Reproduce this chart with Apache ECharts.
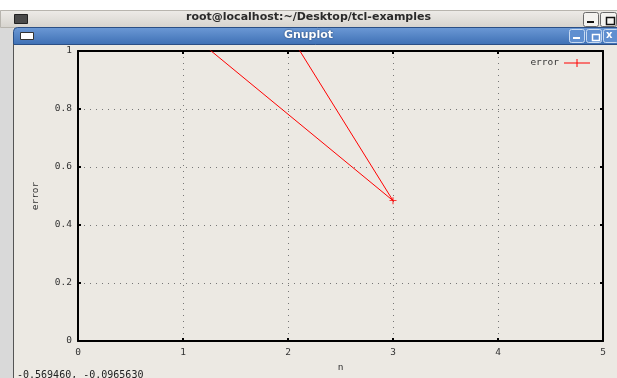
<!DOCTYPE html>
<html><head><meta charset="utf-8">
<script src="https://cdn.jsdelivr.net/npm/echarts@6/dist/echarts.min.js"></script>
<style>html,body{margin:0;padding:0;background:#fff}#c{width:617px;height:378px}</style>
</head><body><div id="c"></div>
<script>
// Data
var nValues = [1, 3, 2];
var errorValues = [1.08, 0.484, 1.066];
var xTicks = [0, 1, 2, 3, 4, 5];
var yTicks = [0, 0.2, 0.4, 0.6, 0.8, 1];
var seriesName = 'error';
var termTitle = 'root@localhost:~/Desktop/tcl-examples';
var winTitle = 'Gnuplot';
var statusText = '-0.569460, -0.0965630';

var chart = echarts.init(document.getElementById('c'), null, {renderer: 'canvas'});
var plus = 'path://M0,4.4H10V5.6H0Z M4.4,0H5.6V10H4.4Z';
var lblFont = {fontFamily: 'DejaVu Sans Mono', fontSize: 9.5, color: '#333'};

function axisCommon(extra) {
  return Object.assign({
    type: 'value', min: 0,
    axisLine: {show: true, onZero: false, lineStyle: {color: '#000', width: 2}},
    axisTick: {show: true, inside: true, length: 3, lineStyle: {color: '#000', width: 2}},
    splitLine: {show: false}
  }, extra);
}

var data = nValues.map(function (n, i) { return [n, errorValues[i]]; });

chart.setOption({
  animation: false,
  backgroundColor: '#ece9e3',
  grid: {left: 78, right: 14, top: 51, bottom: 36, containLabel: false},
  xAxis: [
    axisCommon({
      position: 'bottom', max: 5, interval: 1,
      name: 'n', nameLocation: 'middle', nameGap: 22,
      nameTextStyle: lblFont,
      axisLabel: Object.assign({margin: 7, formatter: function (v) { return xTicks.indexOf(v) >= 0 ? String(v) : ''; }}, lblFont),
      splitLine: {show: true, lineStyle: {color: '#777', width: 1, type: [1, 5]}}
    }),
    axisCommon({position: 'top', max: 5, interval: 1, axisLabel: {show: false}})
  ],
  yAxis: [
    axisCommon({
      position: 'left', max: 1, interval: 0.2,
      name: 'error', nameLocation: 'middle', nameGap: 37, nameRotate: 90,
      nameTextStyle: lblFont,
      axisLabel: Object.assign({margin: 6, formatter: function (v) {
        var r = Math.round(v * 10) / 10; return String(r);
      }}, lblFont),
      splitLine: {show: true, lineStyle: {color: '#777', width: 1, type: [1, 5]}}
    }),
    axisCommon({position: 'right', max: 1, interval: 0.2, axisLabel: {show: false}})
  ],
  legend: {
    show: true, right: 22, top: 53, orient: 'vertical', align: 'right',
    itemWidth: 26, itemHeight: 8, itemGap: 4,
    textStyle: {fontFamily: 'DejaVu Sans Mono', fontSize: 9.5, color: '#333'},
    data: [{name: seriesName, icon: 'path://M0,4.5H26V5.5H0Z M12.5,1H13.5V9H12.5Z'}]
  },
  series: [{
    name: seriesName, type: 'line', data: data, clip: true,
    xAxisIndex: 0, yAxisIndex: 0,
    symbol: plus, symbolSize: 7, showSymbol: true,
    lineStyle: {color: '#ff0000', width: 1},
    itemStyle: {color: '#ff0000'}
  }],
  graphic: [
    {type: 'rect', left: 0, top: 0, shape: {width: 13, height: 378}, style: {fill: '#d9d9d9'}, z: 100},
    {type: 'rect', left: 0, top: 0, shape: {width: 617, height: 10}, style: {fill: '#ffffff'}, z: 100},
    {type: 'rect', left: 0, top: 10, shape: {width: 617, height: 17},
      style: {fill: new echarts.graphic.LinearGradient(0, 0, 0, 1, [{offset: 0, color: '#eeece8'}, {offset: 1, color: '#d6d3cd'}]), stroke: '#b8b5ae', lineWidth: 1}, z: 100},
    {type: 'rect', left: 14, top: 14, shape: {width: 13, height: 9}, style: {fill: '#4a4a4a', stroke: '#222', lineWidth: 1}, z: 101},
    {type: 'text', left: 'center', top: 12, style: {text: termTitle, font: 'bold 11px "DejaVu Sans"', fill: '#2a2a2a'}, z: 101},
    {type: 'rect', left: 583, top: 12, shape: {width: 15, height: 14, r: 2}, style: {fill: '#f4f3f0', stroke: '#6a6a6a', lineWidth: 1}, z: 101},
    {type: 'rect', left: 587, top: 21, shape: {width: 7, height: 2}, style: {fill: '#111'}, z: 102},
    {type: 'rect', left: 600, top: 12, shape: {width: 16, height: 14, r: 2}, style: {fill: '#f4f3f0', stroke: '#6a6a6a', lineWidth: 1}, z: 101},
    {type: 'rect', left: 604, top: 15, shape: {width: 8, height: 7}, style: {fill: 'none', stroke: '#111', lineWidth: 1.5}, z: 102},
    {type: 'rect', left: 13, top: 27, shape: {width: 610, height: 17, r: [4, 0, 0, 0]},
      style: {fill: new echarts.graphic.LinearGradient(0, 0, 0, 1, [{offset: 0, color: '#6d9ad6'}, {offset: 1, color: '#3d6fb4'}]), stroke: '#2b4f85', lineWidth: 1}, z: 100},
    {type: 'rect', left: 20, top: 32, shape: {width: 13, height: 7}, style: {fill: '#ffffff', stroke: '#333', lineWidth: 1}, z: 101},
    {type: 'text', left: 'center', top: 30, style: {text: winTitle, font: 'bold 11px "DejaVu Sans"', fill: '#ffffff', textShadowColor: '#1d3b66', textShadowBlur: 2}, z: 101},
    {type: 'rect', left: 569, top: 29, shape: {width: 15, height: 13, r: 2}, style: {fill: '#5f8fd0', stroke: '#c9dbf2', lineWidth: 1}, z: 101},
    {type: 'rect', left: 573, top: 37, shape: {width: 7, height: 2}, style: {fill: '#fff'}, z: 102},
    {type: 'rect', left: 586, top: 29, shape: {width: 15, height: 13, r: 2}, style: {fill: '#5f8fd0', stroke: '#c9dbf2', lineWidth: 1}, z: 101},
    {type: 'rect', left: 590, top: 32, shape: {width: 7, height: 6}, style: {fill: 'none', stroke: '#fff', lineWidth: 1.5}, z: 102},
    {type: 'rect', left: 603, top: 29, shape: {width: 15, height: 13, r: 2}, style: {fill: '#5f8fd0', stroke: '#c9dbf2', lineWidth: 1}, z: 101},
    {type: 'text', left: 606, top: 30, style: {text: 'x', font: 'bold 10px "DejaVu Sans"', fill: '#fff'}, z: 102},
    {type: 'rect', left: 13, top: 44, shape: {width: 1, height: 334}, style: {fill: '#555'}, z: 100},
    {type: 'text', left: 17, top: 370, style: {text: statusText, font: '10px "DejaVu Sans Mono"', fill: '#222'}, z: 101}
  ]
});
</script></body></html>
